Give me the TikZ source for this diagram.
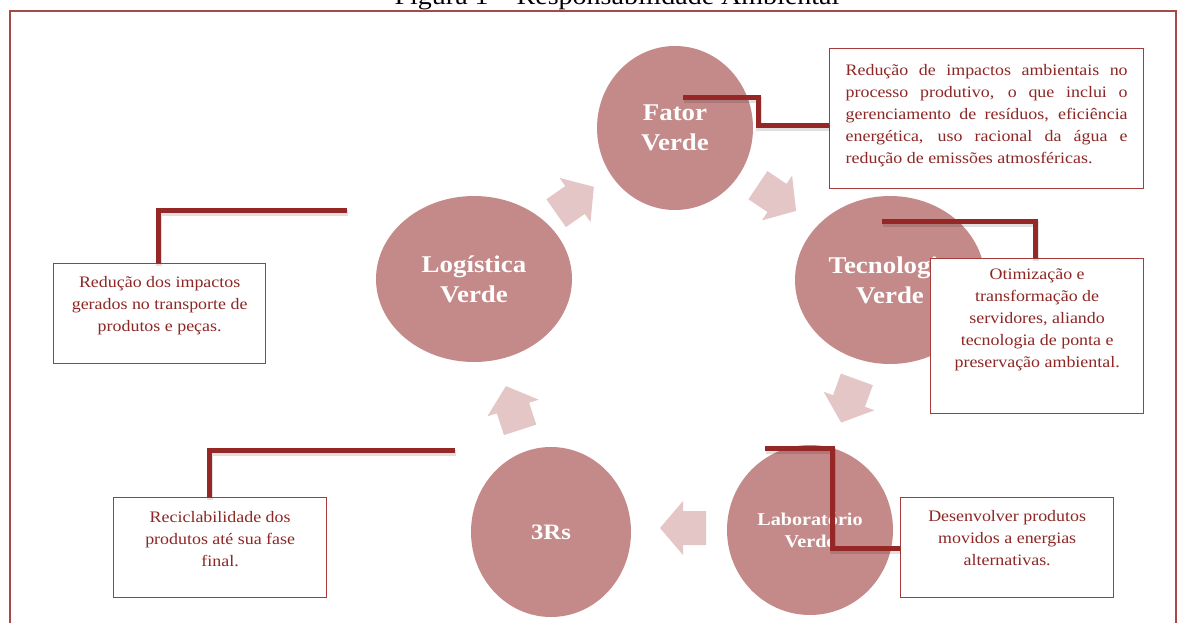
\documentclass[tikz,border=0pt]{standalone}
\usepackage{fontspec}
\setmainfont{Liberation Serif}[FakeStretch=1.12]
\usetikzlibrary{shapes.geometric}

\definecolor{discfill}{HTML}{C48A89}
\definecolor{cyclefill}{HTML}{E5C6C6}
\definecolor{leaderred}{HTML}{952826}
\definecolor{noteline}{HTML}{A63C3A}
\definecolor{notetext}{HTML}{8C2725}
\definecolor{frameline}{HTML}{A64A48}

\tikzset{
  disc/.style={ellipse, fill=discfill, inner sep=0pt, text=white, align=center,
    font=\bfseries\fontsize{24}{30}\selectfont},
  note/.style={rectangle, draw=noteline, line width=1.3pt, fill=white, inner sep=0pt,
    text=notetext, font=\fontsize{16}{22}\selectfont},
  leader/.style={draw=leaderred, line width=5pt, line join=miter,
    preaction={draw=black, draw opacity=0.12, line width=6pt,
      transform canvas={shift={(1pt,-2.5pt)}}}},
  blockarrow/.pic={\fill[cyclefill] (-23,-17) -- (0,-17) -- (0,-27) -- (23,0)
    -- (0,27) -- (0,17) -- (-23,17) -- cycle;}
}

\begin{document}
\begin{tikzpicture}[x=1pt, y=-1pt]
\useasboundingbox (0,0) rectangle (1180,623);
\clip (0,0) rectangle (1180,623);

% frame and caption
\draw[frameline, line width=2pt] (1176,700) -- (1176,11) -- (10,11) -- (10,700);
\node[anchor=base, font=\fontsize{25}{30}\selectfont] (caption) at (617,4.5)
  {Figura 1 – Responsabilidade Ambiental};

% arrows of the cycle
\pic[rotate=35]   at (575,200) {blockarrow};
\pic[rotate=-34]  at (777,198) {blockarrow};
\pic[rotate=-110] at (849,401) {blockarrow};
\pic[rotate=180]  at (683,528) {blockarrow};
\pic[rotate=108]  at (513,408) {blockarrow};

% the five stages
\node[disc, minimum width=156pt, minimum height=164pt] (fator) at (675,128) {Fator\\Verde};
\node[disc, minimum width=190pt, minimum height=168pt] (tec) at (890,280) {Tecnologia\\Verde};
\node[disc, minimum width=166pt, minimum height=170pt,
  font=\bfseries\fontsize{18}{22}\selectfont] (lab) at (810,530) {Laboratório\\Verde};
\node[disc, minimum width=160pt, minimum height=170pt,
  font=\bfseries\fontsize{22}{26}\selectfont] (rrr) at (551,532) {3Rs};
\node[disc, minimum width=196pt, minimum height=166pt] (log) at (474,279) {Logística\\Verde};

% notes
\node[note, anchor=north west] (fbox) at (829,48)
  {\parbox[c][140pt][t]{314pt}{\leftskip=16pt \rightskip=16pt
   \rule{0pt}{27pt}Redução de impactos ambientais no\linebreak
   processo produtivo, o que inclui o\linebreak
   gerenciamento de resíduos, eficiência\linebreak
   energética, uso racional da água e\linebreak
   redução de emissões atmosféricas.}};
\node[note, anchor=north west] (tbox) at (930,258)
  {\parbox[c][155pt][t]{213pt}{\centering
   \rule{0pt}{21pt}Otimização e\\ transformação de\\ servidores, aliando\\
   tecnologia de ponta e\\ preservação ambiental.}};
\node[note, anchor=north west] (lbox) at (900,497)
  {\parbox[c][100pt][t]{213pt}{\centering
   \rule{0pt}{24pt}Desenvolver produtos\\ movidos a energias\\ alternativas.}};
\node[note, anchor=north west] (rbox) at (113,497)
  {\parbox[c][100pt][t]{213pt}{\centering
   \rule{0pt}{25pt}Reciclabilidade dos\\ produtos até sua fase\\ final.}};
\node[note, anchor=north west] (gbox) at (53,263)
  {\parbox[c][100pt][t]{212pt}{\centering
   \rule{0pt}{24pt}Redução dos impactos\\ gerados no transporte de\\ produtos e peças.}};

% leader lines from the stages to their notes
\coordinate (fatorA) at (683,98);
\coordinate (fatorB) at (758,126);
\draw[leader] (fatorA) -| (fatorB) -- (fatorB -| fbox.west);

\coordinate (tecA) at (882,221);
\coordinate (tecB) at (1035,221);
\draw[leader] (tecA) -- (tecB) -- (tecB |- tbox.north);

\coordinate (labA) at (765,448);
\coordinate (labB) at (832,548);
\draw[leader] (labA) -| (labB) -- (labB -| lbox.west);

\coordinate (rrrA) at (455,450);
\coordinate (rrrB) at (209,450);
\draw[leader] (rrrA) -- (rrrB) -- (rrrB |- rbox.north);

\coordinate (logA) at (347,210);
\coordinate (logB) at (158,210);
\draw[leader] (logA) -- (logB) -- (logB |- gbox.north);
\end{tikzpicture}
\end{document}
